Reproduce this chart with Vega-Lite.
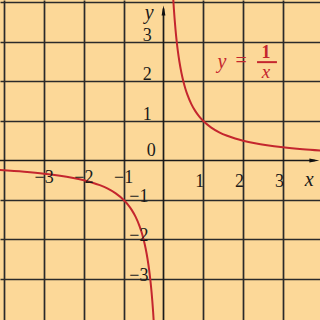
{
  "$schema": "https://vega.github.io/schema/vega-lite/v6.json",
  "width": 320,
  "height": 320,
  "autosize": {"type": "none"},
  "padding": 0,
  "background": "#FCD898",
  "view": {"stroke": null, "fill": "#FCD898"},
  "datasets": {
    "curve": [
      {"x": 0.24, "y": 4.1667}, {"x": 0.26, "y": 3.8462}, {"x": 0.28, "y": 3.5714}, {"x": 0.3, "y": 3.3333},
      {"x": 0.33, "y": 3.0303}, {"x": 0.36, "y": 2.7778}, {"x": 0.4, "y": 2.5}, {"x": 0.45, "y": 2.2222},
      {"x": 0.5, "y": 2.0}, {"x": 0.55, "y": 1.8182}, {"x": 0.6, "y": 1.6667}, {"x": 0.7, "y": 1.4286},
      {"x": 0.8, "y": 1.25}, {"x": 0.9, "y": 1.1111}, {"x": 1.0, "y": 1.0}, {"x": 1.2, "y": 0.8333},
      {"x": 1.4, "y": 0.7143}, {"x": 1.6, "y": 0.625}, {"x": 1.8, "y": 0.5556}, {"x": 2.0, "y": 0.5},
      {"x": 2.3, "y": 0.4348}, {"x": 2.6, "y": 0.3846}, {"x": 3.0, "y": 0.3333}, {"x": 3.5, "y": 0.2857},
      {"x": 4.0, "y": 0.25}
    ],
    "curveNeg": [
      {"x": -4.2, "y": -0.2381}, {"x": -3.5, "y": -0.2857}, {"x": -3.0, "y": -0.3333}, {"x": -2.6, "y": -0.3846},
      {"x": -2.3, "y": -0.4348}, {"x": -2.0, "y": -0.5}, {"x": -1.8, "y": -0.5556}, {"x": -1.6, "y": -0.625},
      {"x": -1.4, "y": -0.7143}, {"x": -1.2, "y": -0.8333}, {"x": -1.0, "y": -1.0}, {"x": -0.9, "y": -1.1111},
      {"x": -0.8, "y": -1.25}, {"x": -0.7, "y": -1.4286}, {"x": -0.6, "y": -1.6667}, {"x": -0.55, "y": -1.8182},
      {"x": -0.5, "y": -2.0}, {"x": -0.45, "y": -2.2222}, {"x": -0.4, "y": -2.5}, {"x": -0.36, "y": -2.7778},
      {"x": -0.33, "y": -3.0303}, {"x": -0.3, "y": -3.3333}, {"x": -0.28, "y": -3.5714}, {"x": -0.26, "y": -3.8462},
      {"x": -0.24, "y": -4.1667}
    ],
    "xPos": [{"v": 1, "t": "1"}, {"v": 2, "t": "2"}, {"v": 3, "t": "3"}],
    "xNeg": [{"v": -3, "t": "−3"}, {"v": -2, "t": "−2"}, {"v": -1, "t": "−1"}],
    "yPos": [{"v": 1, "t": "1"}, {"v": 2, "t": "2"}, {"v": 3, "t": "3"}],
    "yNeg": [{"v": -1, "t": "−1"}, {"v": -2, "t": "−2"}, {"v": -3, "t": "−3"}]
  },
  "layer": [
    {
      "data": {"values": [{"gx": 0, "gy": 0}]},
      "mark": {"type": "point", "opacity": 0},
      "encoding": {
        "x": {
          "field": "gx", "type": "quantitative",
          "scale": {"domain": [-4.108, 3.932], "nice": false, "zero": false},
          "axis": {"values": [-4, -3, -2, -1, 1, 2, 3], "grid": true, "labels": false, "ticks": false, "domain": false, "title": null, "gridColor": "#2a2a2a", "gridWidth": 1.7, "gridOpacity": 1}
        },
        "y": {
          "field": "gy", "type": "quantitative",
          "scale": {"domain": [-4.038, 4.063], "nice": false, "zero": false},
          "axis": {"values": [-3, -2, -1, 1, 2, 3, 4], "grid": true, "labels": false, "ticks": false, "domain": false, "title": null, "gridColor": "#2a2a2a", "gridWidth": 1.7, "gridOpacity": 1}
        }
      }
    },
    {
      "data": {"values": [{"a": -4.2, "b": 3.8}]},
      "mark": {"type": "rule", "color": "#1a1a1a", "strokeWidth": 1.7},
      "encoding": {"x": {"field": "a", "type": "quantitative"}, "x2": {"field": "b"}, "y": {"datum": 0}}
    },
    {
      "data": {"values": [{"a": -4.2, "b": 3.85}]},
      "mark": {"type": "rule", "color": "#1a1a1a", "strokeWidth": 1.7},
      "encoding": {"y": {"field": "a", "type": "quantitative"}, "y2": {"field": "b"}, "x": {"datum": 0}}
    },
    {
      "data": {"values": [{"p": 3.79}]},
      "mark": {"type": "point", "shape": "M1,0L-1,-0.38L-1,0.38Z", "filled": true, "color": "#111111", "size": 100, "opacity": 1},
      "encoding": {"x": {"field": "p", "type": "quantitative"}, "y": {"datum": 0}}
    },
    {
      "data": {"values": [{"p": 3.8}]},
      "mark": {"type": "point", "shape": "M0,-1L-0.38,1L0.38,1Z", "filled": true, "color": "#111111", "size": 100, "opacity": 1},
      "encoding": {"y": {"field": "p", "type": "quantitative"}, "x": {"datum": 0}}
    },
    {
      "data": {"name": "curve"},
      "mark": {"type": "line", "color": "#C4262E", "strokeWidth": 2, "interpolate": "monotone", "clip": true},
      "encoding": {"x": {"field": "x", "type": "quantitative"}, "y": {"field": "y", "type": "quantitative"}}
    },
    {
      "data": {"name": "curveNeg"},
      "mark": {"type": "line", "color": "#C4262E", "strokeWidth": 2, "interpolate": "monotone", "clip": true},
      "encoding": {"x": {"field": "x", "type": "quantitative"}, "y": {"field": "y", "type": "quantitative"}}
    },
    {
      "data": {"name": "xPos"},
      "mark": {"type": "text", "font": "Liberation Serif", "fontSize": 18, "color": "#1a1a1a", "align": "right", "baseline": "alphabetic", "dx": 1},
      "encoding": {"x": {"field": "v", "type": "quantitative"}, "y": {"datum": -0.66}, "text": {"field": "t"}}
    },
    {
      "data": {"name": "xNeg"},
      "mark": {"type": "text", "font": "Liberation Serif", "fontSize": 18, "color": "#1a1a1a", "align": "center", "baseline": "alphabetic"},
      "encoding": {"x": {"field": "v", "type": "quantitative"}, "y": {"datum": -0.57}, "text": {"field": "t"}}
    },
    {
      "data": {"name": "yPos"},
      "mark": {"type": "text", "font": "Liberation Serif", "fontSize": 18, "color": "#1a1a1a", "align": "center", "baseline": "alphabetic", "dy": -1},
      "encoding": {"y": {"field": "v", "type": "quantitative"}, "x": {"datum": -0.41}, "text": {"field": "t"}}
    },
    {
      "data": {"name": "yNeg"},
      "mark": {"type": "text", "font": "Liberation Serif", "fontSize": 18, "color": "#1a1a1a", "align": "center", "baseline": "alphabetic", "dy": 2},
      "encoding": {"y": {"field": "v", "type": "quantitative"}, "x": {"datum": -0.62}, "text": {"field": "t"}}
    },
    {
      "data": {"values": [{"t": "0"}]},
      "mark": {"type": "text", "font": "Liberation Serif", "fontSize": 18, "color": "#1a1a1a", "align": "center", "baseline": "alphabetic"},
      "encoding": {"x": {"datum": -0.31}, "y": {"datum": 0.11}, "text": {"field": "t"}}
    },
    {
      "data": {"values": [{"t": "y"}]},
      "mark": {"type": "text", "font": "Liberation Serif", "fontSize": 20, "fontStyle": "italic", "color": "#1a1a1a", "align": "center", "baseline": "alphabetic"},
      "encoding": {"x": {"datum": -0.36}, "y": {"datum": 3.57}, "text": {"field": "t"}}
    },
    {
      "data": {"values": [{"t": "x"}]},
      "mark": {"type": "text", "font": "Liberation Serif", "fontSize": 20, "fontStyle": "italic", "color": "#1a1a1a", "align": "center", "baseline": "alphabetic"},
      "encoding": {"x": {"datum": 3.66}, "y": {"datum": -0.65}, "text": {"field": "t"}}
    },
    {
      "data": {"values": [{"t": "y"}]},
      "mark": {"type": "text", "font": "Liberation Serif", "fontSize": 20, "fontStyle": "italic", "color": "#C4262E", "align": "center", "baseline": "alphabetic"},
      "encoding": {"x": {"datum": 1.47}, "y": {"datum": 2.33}, "text": {"field": "t"}}
    },
    {
      "data": {"values": [{"t": "="}]},
      "mark": {"type": "text", "font": "Liberation Serif", "fontSize": 20, "color": "#C4262E", "align": "center", "baseline": "alphabetic"},
      "encoding": {"x": {"datum": 1.95}, "y": {"datum": 2.36}, "text": {"field": "t"}}
    },
    {
      "data": {"values": [{"t": "1"}]},
      "mark": {"type": "text", "font": "Liberation Serif", "fontSize": 18, "fontWeight": "bold", "color": "#C4262E", "align": "center", "baseline": "alphabetic"},
      "encoding": {"x": {"datum": 2.575}, "y": {"datum": 2.6}, "text": {"field": "t"}}
    },
    {
      "data": {"values": [{"a": 2.35, "b": 2.85}]},
      "mark": {"type": "rule", "color": "#C4262E", "strokeWidth": 2},
      "encoding": {"x": {"field": "a", "type": "quantitative"}, "x2": {"field": "b"}, "y": {"datum": 2.49}}
    },
    {
      "data": {"values": [{"t": "x"}]},
      "mark": {"type": "text", "font": "Liberation Serif", "fontSize": 19, "fontStyle": "italic", "color": "#C4262E", "align": "center", "baseline": "alphabetic"},
      "encoding": {"x": {"datum": 2.575}, "y": {"datum": 2.09}, "text": {"field": "t"}}
    }
  ]
}
